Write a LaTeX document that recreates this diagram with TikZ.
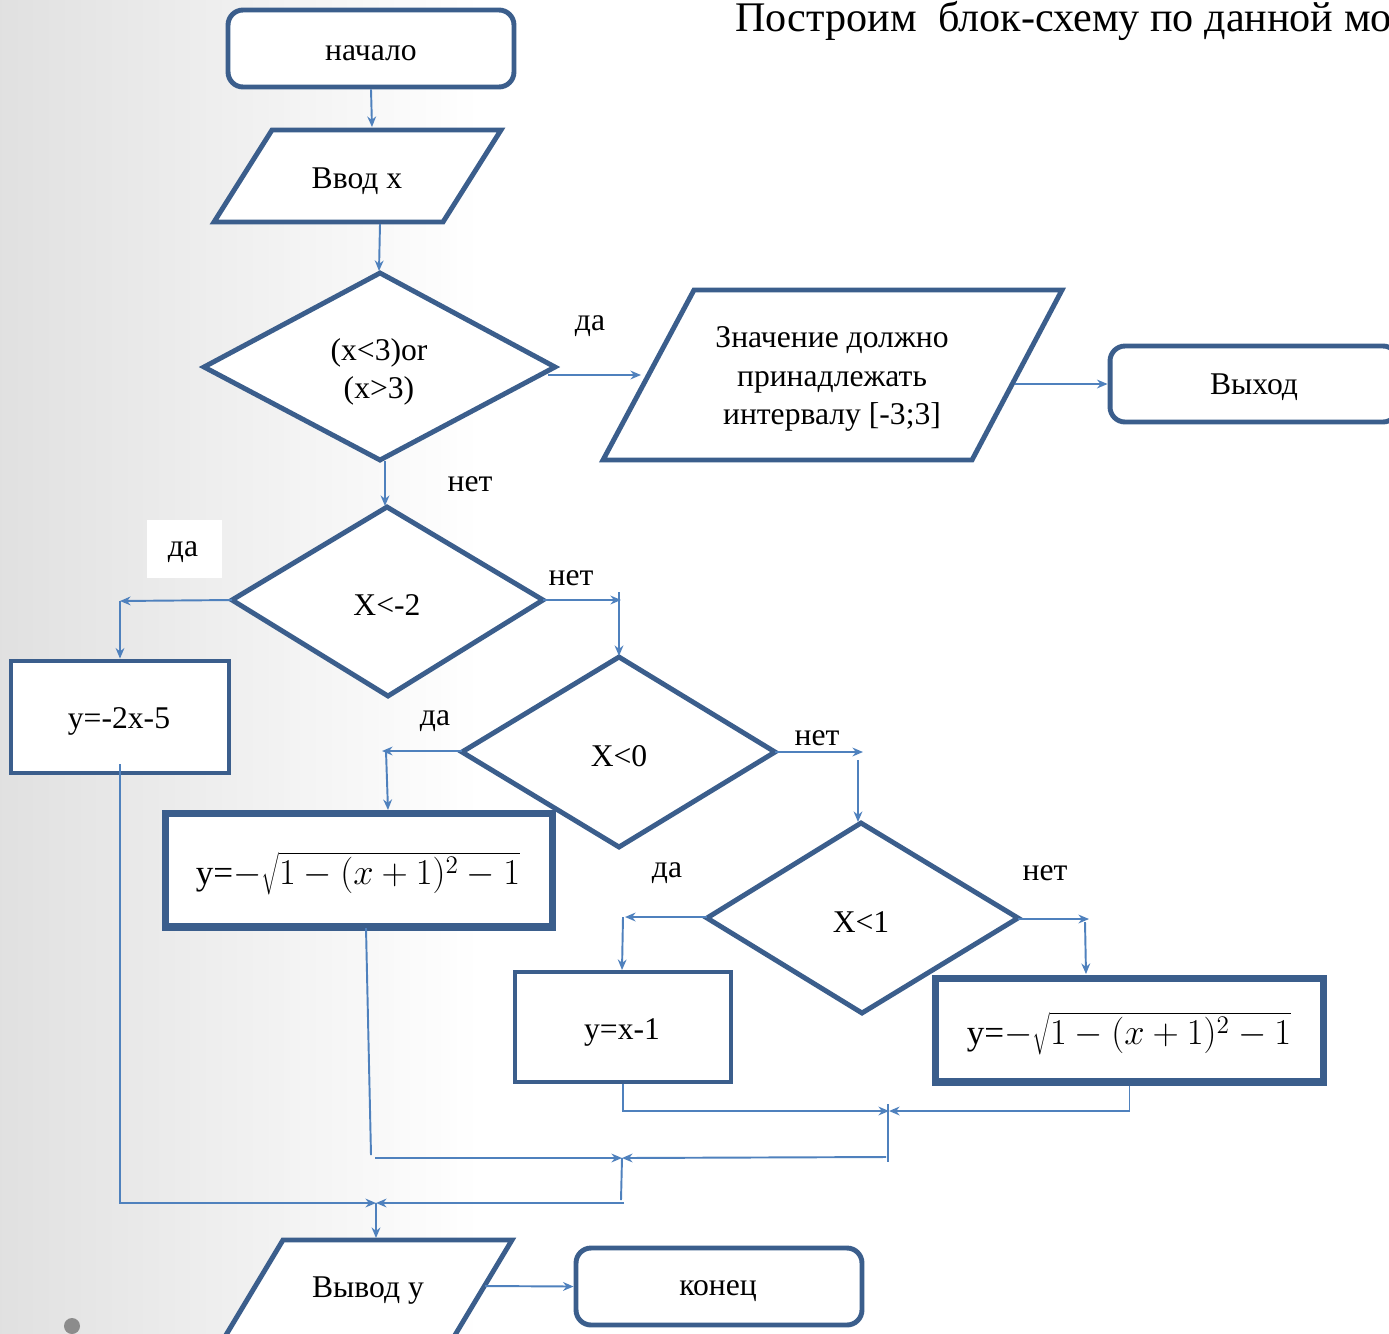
\documentclass[tikz,border=0pt]{standalone}
\usepackage{fontspec}
\setmainfont{Liberation Serif}
\usetikzlibrary{arrows.meta}
\definecolor{shapeblue}{RGB}{59,94,140}
\definecolor{connblue}{RGB}{79,129,189}
\begin{document}
\begin{tikzpicture}[x=0.02cm,y=-0.02cm,
  blk/.style={draw=shapeblue,line width=2.8pt,fill=white,line join=miter},
  thickblk/.style={draw=shapeblue,line width=4pt,fill=white},
  term/.style={blk,rounded corners=0.3cm,inner sep=0pt},
  rectbox/.style={blk,inner sep=0pt},
  txt/.style={font=\fontsize{18}{22}\selectfont,align=center,inner sep=0pt,yshift=-0.06cm},
  mtxt/.style={font=\fontsize{20}{24}\selectfont,align=center,inner sep=0pt,yshift=-0.04cm},
  conn/.style={draw=connblue,line width=1.1pt,-{Stealth[length=6pt,width=5pt]}},
  plain/.style={draw=connblue,line width=1.1pt}]
\clip (0,0) rectangle (1389,1333);
% background
\fill[white] (0,0) rectangle (1389,1333);
\shade[left color=black!12,right color=white] (0,0) rectangle (480,1333);
\fill[black!45] (72,1326) circle (8);
% title
\node[anchor=base west,inner sep=0pt,font=\fontsize{24}{28}\selectfont] (title) at (735,31) {Построим\ \ блок-схему по данной мо};

% shapes
\node[term,minimum width=5.72cm,minimum height=1.54cm] (start) at (371,48.5) {};
\node[txt] (startT) at (371,50) {начало};

\draw[blk] (272,130) -- (501,130) -- (443,222) -- (214,222) -- cycle;
\node[txt] (inT) at (357,178) {Ввод x};

\draw[blk] (380,273) -- (555,367) -- (380,460) -- (204,367) -- cycle;
\node[txt] (d1T) at (379,369) {(x<3)or\\(x>3)};

\draw[blk] (694,290) -- (1062,290) -- (972,460) -- (603,460) -- cycle;
\node[txt] (msgT) at (832,376) {Значение должно\\принадлежать\\интервалу [-3;3]};

\node[term,minimum width=5.76cm,minimum height=1.52cm] (exit) at (1254,384) {};
\node[txt] (exitT) at (1254,384) {Выход};

\draw[blk] (387,507) -- (543,600) -- (388,696) -- (232,600) -- cycle;
\node[txt] (d2T) at (387,602) {X<-2};

\node[rectbox,minimum width=4.36cm,minimum height=2.24cm] (b1) at (120,717) {};
\node[txt] (b1T) at (119,718) {y=-2x-5};

\node[thickblk,inner sep=0pt,minimum width=7.76cm,minimum height=2.28cm] (b2) at (359,870) {};
\node[mtxt] (b2T) at (358,872) {y=$-\sqrt{1-(x+1)^2-1}$};

\draw[blk] (619,657) -- (775,752) -- (619,847) -- (462,752) -- cycle;
\node[txt] (d3T) at (619,753) {X<0};

\draw[blk] (861,823) -- (1018,918) -- (862,1013) -- (707,918) -- cycle;
\node[txt] (d4T) at (861,919) {X<1};

\node[rectbox,minimum width=4.32cm,minimum height=2.2cm] (b3) at (623,1027) {};
\node[txt] (b3T) at (622,1029) {y=x-1};

\node[thickblk,inner sep=0pt,minimum width=7.78cm,minimum height=2.08cm] (b4) at (1129.5,1030) {};
\node[mtxt] (b4T) at (1129,1032) {y=$-\sqrt{1-(x+1)^2-1}$};

\draw[blk] (283,1240) -- (512,1240) -- (449,1345) -- (220,1345) -- cycle;
\node[txt] (outT) at (368,1288) {Вывод у};

\node[term,minimum width=5.72cm,minimum height=1.54cm] (end) at (719,1286.5) {};
\node[txt] (endT) at (718,1288) {конец};

% labels
\node[txt] (l1) at (590,323) {да};
\node[txt] (l2) at (470,481) {нет};
\node[fill=white,minimum width=1.5cm,minimum height=1.16cm,inner sep=0pt] (l3box) at (184.5,549) {};
\node[txt] (l3) at (183,549) {да};
\node[txt] (l4) at (571,575) {нет};
\node[txt] (l5) at (435,718) {да};
\node[txt] (l6) at (817,735) {нет};
\node[txt] (l7) at (667,870) {да};
\node[txt] (l8) at (1045,870) {нет};

% coordinates for connectors
\coordinate (p1t) at (372,127);
\coordinate (p1b) at (380,224);
\coordinate (d1t) at (379,271);
\coordinate (d1r) at (548,375);
\coordinate (p2l) at (641,375);
\coordinate (p2r) at (1015,384);
\coordinate (d1b) at (385,461);
\coordinate (d2t) at (385,506);
\coordinate (d2l) at (232,600);
\coordinate (k1) at (120,601);
\coordinate (d2r) at (543,600);
\coordinate (k2) at (621,600);
\coordinate (k2a) at (619,592);
\coordinate (d3t) at (619,656);
\coordinate (d3l) at (462,751);
\coordinate (k3) at (382,751);
\coordinate (k3a) at (386,751);
\coordinate (b2t) at (388,810);
\coordinate (d3r) at (775,752);
\coordinate (k4) at (863,752);
\coordinate (k4a) at (858,760);
\coordinate (d4t) at (858,822);
\coordinate (d4l) at (707,917);
\coordinate (k5) at (625,917);
\coordinate (k5a) at (623,917);
\coordinate (b3t) at (622,970);
\coordinate (d4r) at (1018,919);
\coordinate (k6) at (1089,919);
\coordinate (k6a) at (1085,922);
\coordinate (b4t) at (1086,974);
\coordinate (j1) at (889,1111);
\coordinate (j1t) at (888,1104);
\coordinate (j1b) at (888,1162);
\coordinate (b2b) at (366,928);
\coordinate (v2) at (371,1155);
\coordinate (h2a) at (375,1158);
\coordinate (h2b) at (886,1157);
\coordinate (j2) at (622,1158);
\coordinate (j2b) at (621,1200);
\coordinate (h3b) at (624,1203);
\coordinate (j3) at (376,1203);
\coordinate (p3t) at (376,1238);
\coordinate (p3r) at (485,1286);
\coordinate (b1b) at (120,764);

% connectors
\draw[conn] (start.south) -- (p1t);
\draw[conn] (p1b) -- (d1t);
\draw[conn] (d1r) -- (p2l);
\draw[conn] (p2r) -- (exit.west);
\draw[conn] (d1b) -- (d2t);
\draw[conn] (d2l) -- (k1);
\draw[conn] (k1) -- (b1.north);
\draw[conn] (d2r) -- (k2);
\draw[conn] (k2a) -- (d3t);
\draw[conn] (d3l) -- (k3);
\draw[conn] (k3a) -- (b2t);
\draw[conn] (d3r) -- (k4);
\draw[conn] (k4a) -- (d4t);
\draw[conn] (d4l) -- (k5);
\draw[conn] (k5a) -- (b3t);
\draw[conn] (d4r) -- (k6);
\draw[conn] (k6a) -- (b4t);
\draw[conn] (b3.south) |- (j1);
\draw[conn] (b4.south) |- (j1);
\draw[plain] (j1t) -- (j1b);
\draw[plain] (b2b) -- (v2);
\draw[conn] (h2a) -- (j2);
\draw[conn] (h2b) -- (j2);
\draw[plain] (j2) -- (j2b);
\draw[conn] (b1b) |- (j3);
\draw[conn] (h3b) -- (j3);
\draw[conn] (j3) -- (p3t);
\draw[conn] (p3r) -- (end.west);
\end{tikzpicture}
\end{document}
